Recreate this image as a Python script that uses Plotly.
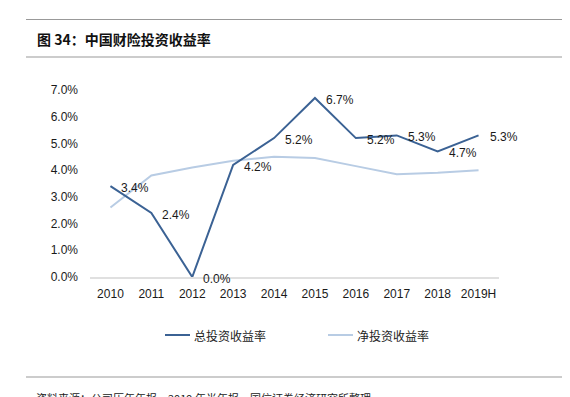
import plotly.graph_objects as go

years = ["2010", "2011", "2012", "2013", "2014", "2015", "2016", "2017", "2018", "2019H"]
total_yield = [3.4, 2.4, 0.0, 4.2, 5.2, 6.7, 5.2, 5.3, 4.7, 5.3]
net_yield = [2.6, 3.8, 4.1, 4.35, 4.5, 4.45, 4.15, 3.85, 3.9, 4.0]
total_labels = ["3.4%", "2.4%", "0.0%", "4.2%", "5.2%", "6.7%", "5.2%", "5.3%", "4.7%", "5.3%"]
series_names = ["总投资收益率", "净投资收益率"]
y_ticks = [0, 1, 2, 3, 4, 5, 6, 7]
y_tick_text = ["0.0%", "1.0%", "2.0%", "3.0%", "4.0%", "5.0%", "6.0%", "7.0%"]

# page renders with an 8px body offset; compensate
OFF = 8
W, H = 570 - OFF, 397 - OFF
ML, MT = 90 - OFF, 90 - OFF
MR = W - (499 - OFF)
MB = H - (277 - OFF)
PW, PH = W - ML - MR, H - MT - MB

def px(x):
    return (x - OFF - ML) / PW

def py(y):
    return (H - MB - (y - OFF)) / PH

DARK = "#3B6294"
LIGHT = "#B8CCE4"
FONT = "Liberation Sans, Arial, Noto Sans CJK SC, sans-serif"
CJK = "Noto Sans CJK SC, sans-serif"

fig = go.Figure()
fig.add_trace(go.Scatter(x=years, y=net_yield, mode="lines", name=series_names[1],
                         line=dict(color=LIGHT, width=2), showlegend=False))
fig.add_trace(go.Scatter(x=years, y=total_yield, mode="lines", name=series_names[0],
                         line=dict(color=DARK, width=2), showlegend=False))

annotations = []
for i, (v, t) in enumerate(zip(total_yield, total_labels)):
    annotations.append(dict(x=i, y=v, xref="x", yref="y", text=t, showarrow=False,
                            xanchor="left", yanchor="middle", xshift=9, yshift=-2,
                            font=dict(family=FONT, size=12, color="#1a1a1a")))

# title
annotations.append(dict(x=px(35), y=py(39), xref="paper", yref="paper", text="<b>图 34：中国财险投资收益率</b>",
                        showarrow=False, xanchor="left", yanchor="middle",
                        font=dict(family=CJK, size=14, color="#111111")))
# legend (manual)
annotations.append(dict(x=px(192), y=py(335), xref="paper", yref="paper", text=series_names[0],
                        showarrow=False, xanchor="left", yanchor="middle",
                        font=dict(family=CJK, size=12, color="#222222")))
annotations.append(dict(x=px(355), y=py(335), xref="paper", yref="paper", text=series_names[1],
                        showarrow=False, xanchor="left", yanchor="middle",
                        font=dict(family=CJK, size=12, color="#222222")))
# footer
annotations.append(dict(x=px(34), y=py(388), xref="paper", yref="paper",
                        text="资料来源：公司历年年报、2019 年半年报、国信证券经济研究所整理",
                        showarrow=False, xanchor="left", yanchor="top",
                        font=dict(family=CJK, size=11, color="#222222")))

shapes = []
for yy in (19.5, 57, 377):
    shapes.append(dict(type="line", xref="paper", yref="paper", x0=px(26), x1=px(572),
                       y0=py(yy), y1=py(yy), line=dict(color="#999999", width=1.2)))
shapes.append(dict(type="line", xref="paper", yref="paper", x0=px(165), x1=px(190),
                   y0=py(335), y1=py(335), line=dict(color=DARK, width=2)))
shapes.append(dict(type="line", xref="paper", yref="paper", x0=px(328), x1=px(353),
                   y0=py(335), y1=py(335), line=dict(color=LIGHT, width=2)))

fig.update_layout(
    width=W, height=H,
    margin=dict(l=ML, r=MR, t=MT, b=MB, pad=0),
    paper_bgcolor="white", plot_bgcolor="white",
    font=dict(family=FONT, size=12, color="#1a1a1a"),
    annotations=annotations, shapes=shapes, showlegend=False,
    xaxis=dict(type="category", range=[-0.5, 9.5], showgrid=False, showline=True,
               linecolor="#E0E0E0", linewidth=1.5, ticks="", ticklabelstandoff=5,
               tickfont=dict(family=FONT, size=12, color="#1a1a1a"), zeroline=False),
    yaxis=dict(range=[0, 7], tickvals=y_ticks, ticktext=y_tick_text, showgrid=False,
               showline=False, zeroline=False, ticks="", ticklabelstandoff=11,
               tickfont=dict(family=FONT, size=12, color="#1a1a1a")),
)

fig.write_html("out.html")
